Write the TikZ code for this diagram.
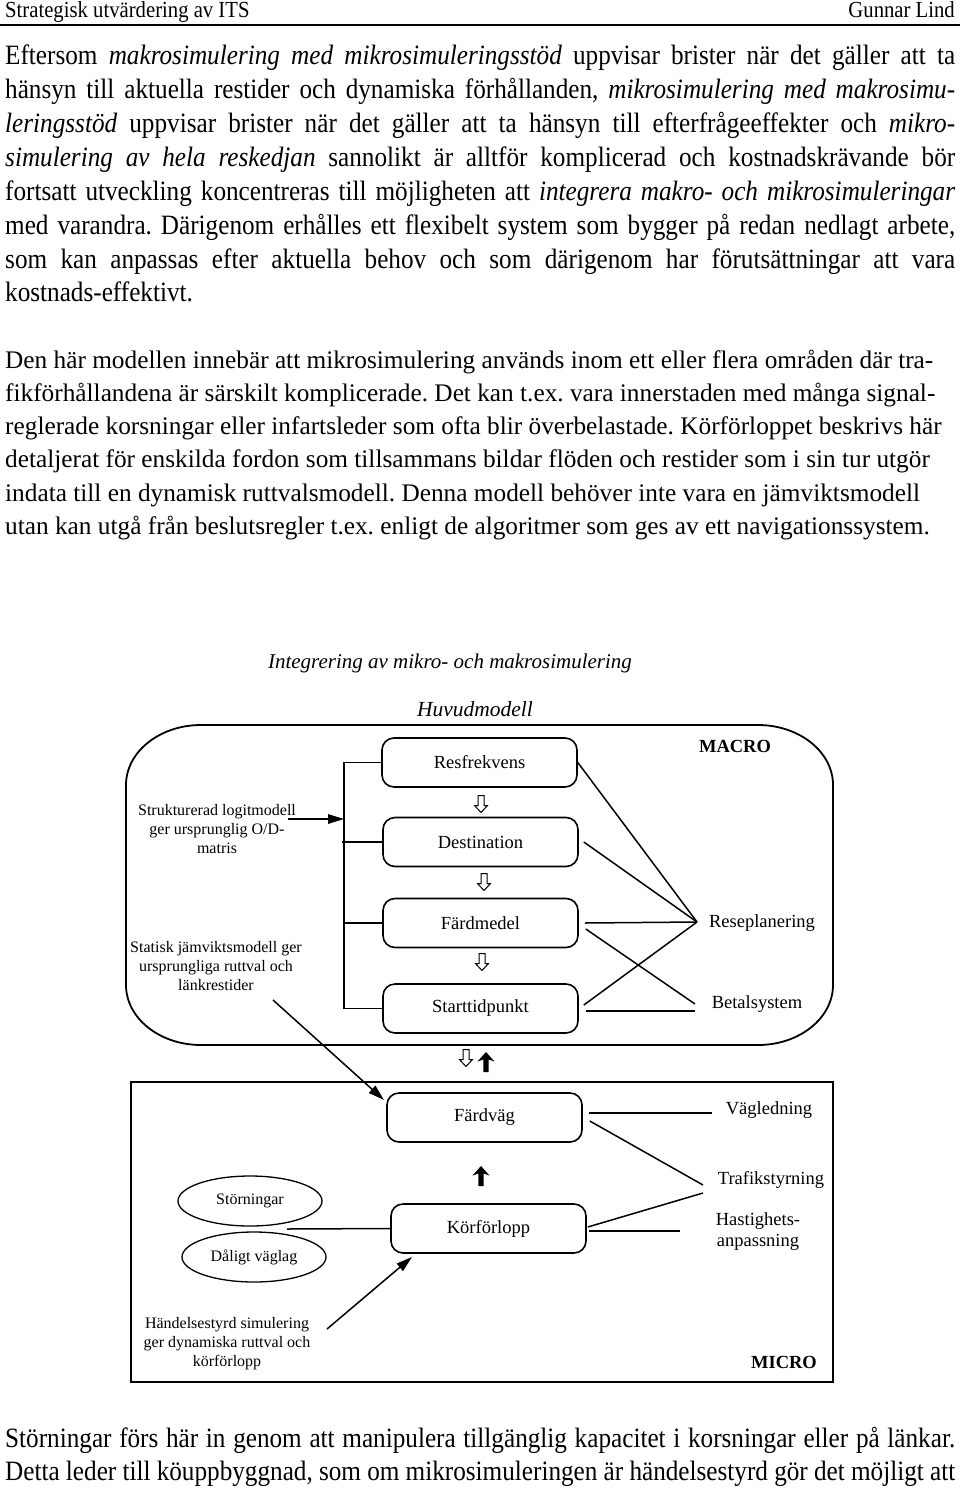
\documentclass[tikz,border=0pt]{standalone}
\usepackage{graphicx}
\usepackage{fontspec}
\setmainfont{Liberation Serif}
\usetikzlibrary{arrows.meta,shapes.geometric}
\newcommand{\jline}[1]{\scalebox{0.9}[1]{\hbox to 1055.56pt{#1}}}
\newcommand{\cnline}[1]{\scalebox{0.9}[1]{#1}}
\tikzset{
  pics/dnarr/.style={code={\draw[line width=1pt, line join=miter] (-3,-8.5) -- (3,-8.5) -- (3,1.5) -- (6.5,1.5) -- (0,8.5) -- (-6.5,1.5) -- (-3,1.5) -- cycle;}},
  pics/uparr/.style={code={\fill (0,-10) -- (8.5,-0.5) -- (2.6,-2.5) -- (2.6,10) -- (-2.6,10) -- (-2.6,-2.5) -- (-8.5,-0.5) -- cycle;}},
}
\begin{document}
\frenchspacing
\begin{tikzpicture}[x=1pt,y=-1pt,
  every node/.style={inner sep=0pt},
  pone/.style={anchor=base west, font=\fontsize{28}{34}\selectfont},
  ptwo/.style={anchor=base west, font=\fontsize{25.3}{33}\selectfont},
  box/.style={draw, rounded corners=12pt, line width=1.6pt, minimum width=195pt, minimum height=49pt, font=\fontsize{18.5}{21}\selectfont},
  conn/.style={line width=1.5pt},
  tip/.style={-{Triangle[length=16pt,width=9.5pt]}},
  lbl/.style={font=\fontsize{18.5}{21}\selectfont, align=center},
  side/.style={font=\fontsize{16}{19}\selectfont, align=center},
  ell/.style={draw, ellipse, line width=1.3pt, minimum width=144pt, minimum height=50pt, font=\fontsize{16}{19}\selectfont},
  bold/.style={font=\fontsize{18.5}{21}\selectfont\bfseries},
]
\fill[white] (0,0) rectangle (960,1488);
\useasboundingbox (0,0) rectangle (960,1488);

% header
\node[anchor=base west, font=\fontsize{23}{26}\selectfont] (hl) at (5,18) {\cnline{Strategisk utvärdering av ITS}};
\node[anchor=base east, font=\fontsize{23}{26}\selectfont] (hr) at (955,18) {\cnline{Gunnar Lind}};
\draw[line width=2pt] (0,25) -- (960,25);

% paragraph 1
\node[pone] (pa1) at (5,64) {\jline{Eftersom \textit{makrosimulering med mikrosimuleringsstöd} uppvisar brister när det gäller att ta}};
\node[pone] (pa2) at (5,98) {\jline{hänsyn till aktuella restider och dynamiska förhållanden, \textit{mikrosimulering med makrosimu-}}};
\node[pone] (pa3) at (5,132) {\jline{\textit{leringsstöd} uppvisar brister när det gäller att ta hänsyn till efterfrågeeffekter och \textit{mikro-}}};
\node[pone] (pa4) at (5,166) {\jline{\textit{simulering av hela reskedjan} sannolikt är alltför komplicerad och kostnadskrävande bör}};
\node[pone] (pa5) at (5,200) {\jline{fortsatt utveckling koncentreras till möjligheten att \textit{integrera makro- och mikrosimuleringar}}};
\node[pone] (pa6) at (5,234) {\jline{med varandra. Därigenom erhålles ett flexibelt system som bygger på redan nedlagt arbete,}};
\node[pone] (pa7) at (5,268) {\jline{som kan anpassas efter aktuella behov och som därigenom har förutsättningar att vara}};
\node[pone] (pa8) at (5,301.5) {\cnline{kostnads-effektivt.}};

% paragraph 2
\node[ptwo] (pb1) at (5,368) {Den här modellen innebär att mikrosimulering används inom ett eller flera områden där tra-};
\node[ptwo] (pb2) at (5,401.3) {fikförhållandena är särskilt komplicerade. Det kan t.ex. vara innerstaden med många signal-};
\node[ptwo] (pb3) at (5,434.6) {reglerade korsningar eller infartsleder som ofta blir överbelastade. Körförloppet beskrivs här};
\node[ptwo] (pb4) at (5,467.9) {detaljerat för enskilda fordon som tillsammans bildar flöden och restider som i sin tur utgör};
\node[ptwo] (pb5) at (5,501.2) {indata till en dynamisk ruttvalsmodell. Denna modell behöver inte vara en jämviktsmodell};
\node[ptwo] (pb6) at (5,534.5) {utan kan utgå från beslutsregler t.ex. enligt de algoritmer som ges av ett navigationssystem.};

% bottom text
\node[pone] (pc1) at (5,1447) {\jline{Störningar förs här in genom att manipulera tillgänglig kapacitet i korsningar eller på länkar.}};
\node[pone] (pc2) at (5,1480) {\jline{Detta leder till köuppbyggnad, som om mikrosimuleringen är händelsestyrd gör det möjligt att}};

% diagram titles
\node[font=\fontsize{21}{24}\selectfont\itshape] (title) at (450,663) {Integrering av mikro- och makrosimulering};
\node[font=\fontsize{21.5}{24}\selectfont\itshape] (huvud) at (475,709) {Huvudmodell};

% MACRO frame
\draw[line width=1.8pt] (201,725) -- (758,725) .. controls (799.4,725) and (833,751.9) .. (833,785) -- (833,985) .. controls (833,1018.1) and (799.4,1045) .. (758,1045) -- (201,1045) .. controls (159.6,1045) and (126,1018.1) .. (126,985) -- (126,785) .. controls (126,751.9) and (159.6,725) .. cycle;
\node[bold] (macro) at (735,746) {MACRO};

% MICRO frame
\draw[line width=2pt] (131,1082) rectangle (833,1382);
\node[bold] (micro) at (784,1362) {MICRO};

% boxes
\node[box] (res) at (479.5,762.5) {Resfrekvens};
\node[box] (dest) at (480.5,842) {Destination};
\node[box] (fmed) at (480.5,923) {Färdmedel};
\node[box] (stt) at (480.5,1008.5) {Starttidpunkt};
\node[box] (fvag) at (484.5,1117.5) {Färdväg};
\node[box] (korf) at (488.5,1228.5) {Körförlopp};

% right labels
\node[lbl] (rp) at (762,923) {Reseplanering};
\node[lbl] (bs) at (757,1004) {Betalsystem};
\node[lbl] (vl) at (769,1110) {Vägledning};
\node[lbl] (ts) at (771,1180) {Trafikstyrning};
\node[lbl] (ha) at (758,1232) {Hastighets-\\anpassning};

% side texts
\node[side] (sl) at (217,829) {Strukturerad logitmodell\\ger ursprunglig O/D-\\matris};
\node[side] (sj) at (216,966) {Statisk jämviktsmodell ger\\ursprungliga ruttval och\\länkrestider};
\node[side] (hs) at (227,1344) {Händelsestyrd simulering\\ger dynamiska ruttval och\\körförlopp};

% ellipses
\node[ell] (sto) at (250,1201) {Störningar};
\node[ell] (dvl) at (254,1257) {Dåligt väglag};

% coordinates
\coordinate (brk) at (344,900);
\coordinate (slA) at (288,819);
\coordinate (rpIn) at (697,922);
\coordinate (bsIn) at (695,1004);
\coordinate (bsIn2) at (695,1011);
\coordinate (sjA) at (273,1000);
\coordinate (fvTip) at (384,1100);
\coordinate (vlIn) at (712,1113);
\coordinate (tsIn1) at (703,1185);
\coordinate (tsIn2) at (703,1193);
\coordinate (haIn) at (680,1231);
\coordinate (elA) at (287,1229);
\coordinate (hsA) at (327,1329);
\coordinate (kfTip) at (412,1257);

% bracket
\draw[conn] (res.west) -- (res.west -| brk) -- (stt.west -| brk) -- (stt.west);
\draw[conn] (dest.west) -- ([xshift=-2pt]dest.west -| brk);
\draw[conn] (fmed.west) -- (fmed.west -| brk);
\draw[conn, tip] (slA) -- (slA -| brk);

% macro lines
\draw[conn] (res.east) -- (rpIn);
\draw[conn] ([xshift=5pt]dest.east) -- (rpIn);
\draw[conn] ([xshift=6pt]fmed.east) -- (rpIn);
\draw[conn] ([xshift=7pt,yshift=-6pt]fmed.east) -- (bsIn);
\draw[conn] ([xshift=5pt,yshift=3.5pt]stt.east) -- (rpIn);
\draw[conn] ([xshift=7pt,yshift=-2.5pt]stt.east) -- (bsIn2);

% macro to micro
\draw[conn, tip] (sjA) -- (fvTip);

% micro lines
\draw[conn] ([xshift=6pt,yshift=4.5pt]fvag.east) -- (vlIn);
\draw[conn] ([xshift=7pt,yshift=-3.5pt]fvag.east) -- (tsIn1);
\draw[conn] ([xshift=1pt,yshift=1.5pt]korf.east) -- (tsIn2);
\draw[conn] ([xshift=2pt,yshift=-2.5pt]korf.east) -- (haIn);
\draw[conn] (elA) -- (korf.west);
\draw[conn, tip] (hsA) -- (kfTip);

% small arrows
\pic at (481,804) {dnarr};
\pic at (484,882) {dnarr};
\pic at (482,962) {dnarr};
\pic at (466,1058) {dnarr};
\pic at (486,1062) {uparr};
\pic at (481,1176) {uparr};
\end{tikzpicture}
\end{document}
